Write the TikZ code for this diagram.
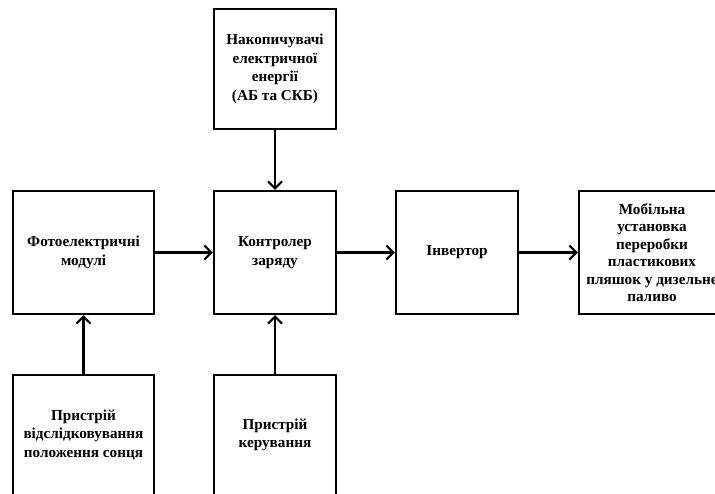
\documentclass[tikz,border=0pt]{standalone}
\usepackage{fontspec}
\setmainfont{Liberation Serif}
\usetikzlibrary{arrows.meta}
\tikzset{
  blockbox/.style={draw=black, line width=2.2pt, rectangle, inner sep=0pt, align=center,
    font=\fontsize{15.2}{18.5}\selectfont\bfseries},
  txtnode/.style={inner sep=0pt, align=center, font=\fontsize{15.2}{17.5}\selectfont\bfseries},
  flow/.style={line width=2.2pt, -{Straight Barb[length=7pt,width=14pt,line width=2.2pt]}}
}
\begin{document}
\begin{tikzpicture}[x=1pt,y=-1pt]
\useasboundingbox (0,0) rectangle (715,493);
\clip (0,0) rectangle (715,493);
\fill[white] (0,0) rectangle (715,493);
\node[blockbox, minimum width=122pt, minimum height=120pt] (nak) at (275,69)
  {Накопичувачі\\електричної\\енергії\\(АБ та СКБ)};
\node[blockbox, minimum width=141pt, minimum height=123pt] (foto) at (83.5,252.5)
  {Фотоелектричні\\модулі};
\node[blockbox, minimum width=122pt, minimum height=123pt] (ctrl) at (275,252.5)
  {Контролер\\заряду};
\node[blockbox, minimum width=122pt, minimum height=123pt] (inv) at (457,252.5)
  {Інвертор};
\node[blockbox, minimum width=146pt, minimum height=123pt] (mob) at (652,252.5) {};
\node[txtnode] (mobtxt) at (mob.center)
  {Мобільна\\установка\\переробки\\пластикових\\пляшок у дизельне\\паливо};
\node[blockbox, minimum width=141pt, minimum height=120pt] (track) at (83.5,435)
  {Пристрій\\відслідковування\\положення сонця};
\node[blockbox, minimum width=122pt, minimum height=120pt] (keru) at (275,435)
  {Пристрій\\керування};
\draw[flow] (nak.south) -- (ctrl.north);
\draw[flow] (foto.east) -- (ctrl.west);
\draw[flow] (ctrl.east) -- (inv.west);
\draw[flow] (inv.east) -- (mob.west);
\draw[flow] (track.north) -- (foto.south);
\draw[flow] (keru.north) -- (ctrl.south);
\end{tikzpicture}
\end{document}
